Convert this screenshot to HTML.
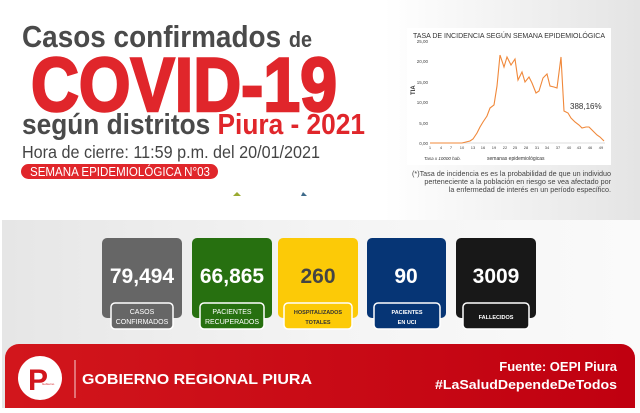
<!DOCTYPE html>
<html><head><meta charset="utf-8"><style>
body{margin:0;width:640px;height:408px;overflow:hidden;background:#fff;font-family:"Liberation Sans",sans-serif}
</style></head><body>
<svg width="640" height="408" viewBox="0 0 640 408" xmlns="http://www.w3.org/2000/svg" font-family="Liberation Sans, sans-serif">
<defs>
<linearGradient id="bg" x1="0" x2="1"><stop offset="0" stop-color="#fff"/><stop offset="0.6" stop-color="#fff"/><stop offset="1" stop-color="#e4e4e4"/></linearGradient>
<linearGradient id="pn" x1="0" x2="1" y1="0" y2="0"><stop offset="0" stop-color="#e6e6e6"/><stop offset="0.5" stop-color="#f4f4f4"/><stop offset="1" stop-color="#fafafa"/></linearGradient>
<linearGradient id="rd" x1="0" x2="1"><stop offset="0" stop-color="#d2161c"/><stop offset="1" stop-color="#c00010"/></linearGradient>
</defs>
<rect width="640" height="220" fill="url(#bg)"/>
<rect x="2" y="220" width="638" height="188" fill="url(#pn)"/>
<!-- title -->
<text x="22" y="47" font-size="31" font-weight="bold" fill="#4a4a4a" textLength="290" lengthAdjust="spacingAndGlyphs">Casos confirmados <tspan font-size="22">de</tspan></text>
<text x="31" y="111" font-size="76" font-weight="bold" fill="#e0262b" stroke="#e0262b" stroke-width="2.5" textLength="306" lengthAdjust="spacingAndGlyphs">COVID-19</text>
<text x="22" y="134" font-size="29" font-weight="bold" fill="#4a4a4a" textLength="343" lengthAdjust="spacingAndGlyphs">según distritos <tspan fill="#e0262b">Piura - 2021</tspan></text>
<text x="22" y="158" font-size="17.5" fill="#444" textLength="298" lengthAdjust="spacingAndGlyphs">Hora de cierre: 11:59 p.m. del 20/01/2021</text>
<rect x="21" y="164" width="197" height="15" rx="7.5" fill="#e0262b"/>
<text x="30" y="176" font-size="12.5" fill="#fff" textLength="180" lengthAdjust="spacingAndGlyphs">SEMANA EPIDEMIOLÓGICA N°03</text>
<path d="M233 196 l4 -4 4 4z" fill="#9aaa30"/><path d="M301 196 l2 -4 4 4z" fill="#3e6a8a"/>
<!-- chart -->
<rect x="407" y="28" width="204" height="137" fill="#fff"/>
<text x="413" y="38" font-size="7" fill="#333" textLength="192" lengthAdjust="spacingAndGlyphs">TASA DE INCIDENCIA SEGÚN SEMANA EPIDEMIOLÓGICA</text>
<g font-size="4.5" fill="#444" text-anchor="end">
<text x="428" y="43">25,00</text><text x="428" y="63">20,00</text><text x="428" y="84">15,00</text><text x="428" y="104">10,00</text><text x="428" y="125">5,00</text><text x="428" y="145">0,00</text>
</g>
<text x="415" y="95" font-size="6" font-weight="bold" fill="#333" transform="rotate(-90 415 95)">TIA</text>
<line x1="430" y1="143" x2="605" y2="143" stroke="#bbb" stroke-width="0.6"/>
<g font-size="4" fill="#444" text-anchor="middle">
<text x="430" y="149">1</text><text x="441" y="149">4</text><text x="451" y="149">7</text><text x="462" y="149">10</text><text x="473" y="149">13</text><text x="483" y="149">16</text><text x="494" y="149">19</text><text x="505" y="149">22</text><text x="515" y="149">25</text><text x="526" y="149">28</text><text x="537" y="149">31</text><text x="547" y="149">34</text><text x="558" y="149">37</text><text x="569" y="149">40</text><text x="579" y="149">43</text><text x="590" y="149">46</text><text x="601" y="149">49</text>
</g>
<text x="424" y="160" font-size="4.5" font-style="italic" fill="#333">Tasa x 10000 hab.</text>
<text x="487" y="160" font-size="5" fill="#333">semanas epidemiológicas</text>
<polyline fill="none" stroke="#f0883a" stroke-width="1.1" points="430,143 462,143 466,142 470,141 473,139 477,133 480,127 483,122 487,116 490,108 494,105 497,86 500,55 504,67 507,57 511,65 515,59 518,80 522,72 525,82 529,77 532,83 536,93 539,91 543,78 547,74 550,86 554,87 557,88 561,57 564,111 568,113 571,118 575,122 579,125 582,128 586,127 589,127 593,131 597,135 600,137 604,141"/>
<text x="570" y="109" font-size="8" fill="#333">388,16%</text>
<g font-size="7.2" fill="#444" text-anchor="end">
<text x="611" y="176">(*)Tasa de incidencia es es la probabilidad de que un individuo</text>
<text x="611" y="184">perteneciente a la población en riesgo se vea afectado por</text>
<text x="611" y="192">la enfermedad de interés en un período específico.</text>
</g>
<!-- cards -->
<g font-weight="bold" text-anchor="middle">
<rect x="102" y="238" width="80" height="80" rx="5" fill="#666"/>
<text x="142" y="283" font-size="21" fill="#fff">79,494</text>
<rect x="111" y="303" width="62" height="26" rx="4" fill="#666" stroke="#fff" stroke-width="1.5"/>
<text x="142" y="314" font-size="7" font-weight="normal" fill="#fff">CASOS</text><text x="142" y="324" font-size="7" font-weight="normal" fill="#fff">CONFIRMADOS</text>
<rect x="192" y="238" width="80" height="80" rx="5" fill="#277010"/>
<text x="232" y="283" font-size="21" fill="#fff">66,865</text>
<rect x="200" y="303" width="64" height="26" rx="4" fill="#277010" stroke="#fff" stroke-width="1.5"/>
<text x="232" y="314" font-size="7" font-weight="normal" fill="#fff">PACIENTES</text><text x="232" y="324" font-size="7" font-weight="normal" fill="#fff">RECUPERADOS</text>
<rect x="278" y="238" width="80" height="80" rx="5" fill="#fcca07"/>
<text x="318" y="283" font-size="21" fill="#444">260</text>
<rect x="284" y="303" width="68" height="26" rx="4" fill="#fcca07" stroke="#fff" stroke-width="1.5"/>
<text x="318" y="314" font-size="5.5" fill="#333">HOSPITALIZADOS</text><text x="318" y="324" font-size="5.5" fill="#333">TOTALES</text>
<rect x="367" y="238" width="79" height="80" rx="5" fill="#063575"/>
<text x="406" y="283" font-size="21" fill="#fff">90</text>
<rect x="374" y="303" width="66" height="26" rx="4" fill="#063575" stroke="#fff" stroke-width="1.5"/>
<text x="407" y="314" font-size="5.5" fill="#fff">PACIENTES</text><text x="407" y="324" font-size="5.5" fill="#fff">EN UCI</text>
<rect x="456" y="238" width="80" height="80" rx="5" fill="#181818"/>
<text x="496" y="283" font-size="21" fill="#fff">3009</text>
<rect x="463" y="303" width="66" height="26" rx="4" fill="#181818" stroke="#fff" stroke-width="1.5"/>
<text x="496" y="319" font-size="5.5" fill="#fff">FALLECIDOS</text>
</g>
<!-- footer -->
<rect x="5" y="344" width="630" height="80" rx="14" fill="url(#rd)"/>
<circle cx="40" cy="378" r="22" fill="#fff"/>
<text x="28" y="390" font-size="30" font-weight="bold" fill="#d2161c">P</text>
<text x="42" y="385" font-size="3" fill="#d2161c">Gobierno</text>
<line x1="75" y1="360" x2="75" y2="398" stroke="#fff" stroke-width="0.8"/>
<text x="82" y="384" font-size="15" font-weight="bold" fill="#fff" textLength="230" lengthAdjust="spacingAndGlyphs">GOBIERNO REGIONAL PIURA</text>
<text x="617" y="371" font-size="13" font-weight="bold" fill="#fff" text-anchor="end">Fuente: OEPI Piura</text>
<text x="617" y="389" font-size="13" font-weight="bold" fill="#fff" text-anchor="end" textLength="182" lengthAdjust="spacingAndGlyphs">#LaSaludDependeDeTodos</text>
</svg>
</body></html>
